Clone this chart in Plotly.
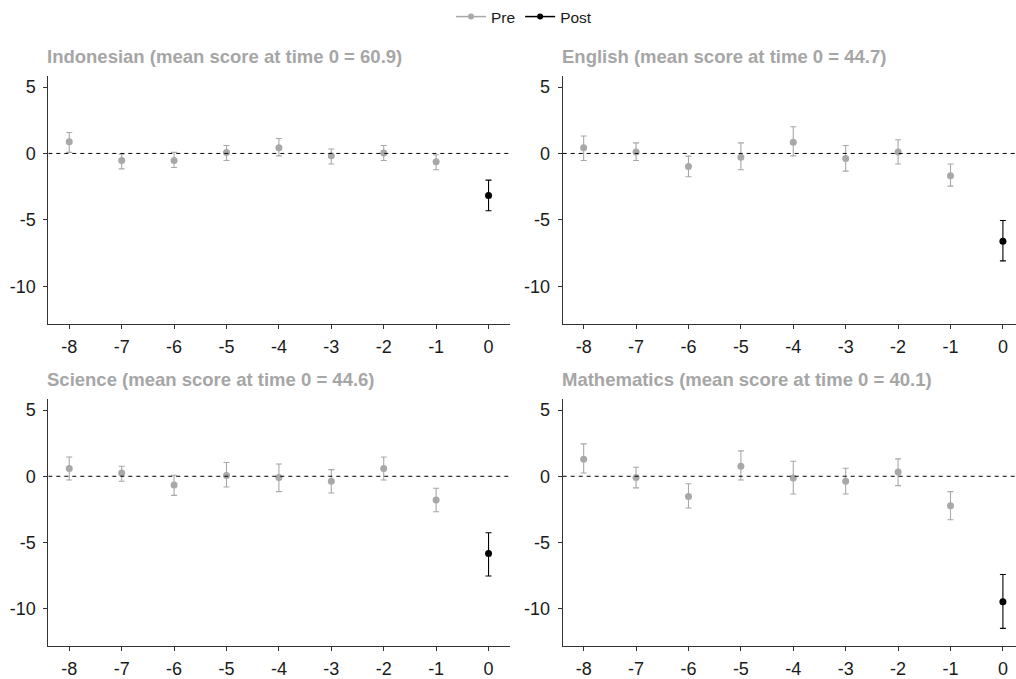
import plotly.graph_objects as go

# Event time relative to the policy change
time = [-8, -7, -6, -5, -4, -3, -2, -1, 0]

subjects = ["Indonesian", "English", "Science", "Mathematics"]
baseline_mean = [60.9, 44.7, 44.6, 40.1]

# Estimated coefficients and 95% confidence bounds per subject
indonesian_est = [0.88, -0.53, -0.53, 0.08, 0.43, -0.18, 0.03, -0.63, -3.17]
indonesian_lo = [0.08, -1.16, -1.06, -0.53, -0.18, -0.80, -0.53, -1.23, -4.32]
indonesian_hi = [1.58, -0.05, 0.08, 0.60, 1.13, 0.33, 0.60, -0.10, -2.01]

english_est = [0.43, 0.10, -0.98, -0.28, 0.85, -0.38, 0.10, -1.68, -6.61]
english_lo = [-0.53, -0.53, -1.76, -1.23, -0.18, -1.33, -0.80, -2.46, -8.09]
english_hi = [1.31, 0.80, -0.20, 0.80, 2.01, 0.60, 1.03, -0.80, -5.05]

science_est = [0.58, 0.25, -0.66, 0.05, -0.10, -0.38, 0.58, -1.79, -5.83]
science_lo = [-0.28, -0.38, -1.44, -0.81, -1.16, -1.26, -0.28, -2.68, -7.53]
science_hi = [1.46, 0.76, 0.08, 1.04, 0.93, 0.50, 1.46, -0.91, -4.27]

math_est = [1.29, -0.10, -1.52, 0.76, -0.13, -0.38, 0.33, -2.22, -9.47]
math_lo = [0.25, -0.88, -2.40, -0.28, -1.34, -1.34, -0.71, -3.28, -11.49]
math_hi = [2.45, 0.68, -0.56, 1.92, 1.14, 0.60, 1.31, -1.16, -7.42]

estimates = [indonesian_est, english_est, science_est, math_est]
lowers = [indonesian_lo, english_lo, science_lo, math_lo]
uppers = [indonesian_hi, english_hi, science_hi, math_hi]

y_ticks = [5, 0, -5, -10]
x_ticks = time

W, H = 1016, 679
PRE_COLOR = "#a8a8a8"
POST_COLOR = "#000000"
FONT = "Liberation Sans, Arial, sans-serif"

# Panel boxes in pixels: (left, right, top, bottom)
panels = [
    (48.3, 509.5, 76, 325),
    (562.7, 1016, 76, 325),
    (48.3, 509.5, 400, 648.3),
    (562.7, 1016, 400, 648.3),
]
x_ranges = [[-8.4, 0.4], [-8.4, 0.25], [-8.4, 0.4], [-8.4, 0.25]]
y_range = [-12.85, 5.85]
title_y = [57, 57, 381, 381]

fig = go.Figure()
layout_axes = {}

for i, subj in enumerate(subjects):
    n = i + 1
    xa = "x" if n == 1 else f"x{n}"
    ya = "y" if n == 1 else f"y{n}"
    est, lo, hi = estimates[i], lowers[i], uppers[i]

    for phase, color in (("Pre", PRE_COLOR), ("Post", POST_COLOR)):
        idx = [k for k, t in enumerate(time) if (t < 0) == (phase == "Pre")]
        xs = [time[k] for k in idx]
        ys = [est[k] for k in idx]
        plus = [hi[k] - est[k] for k in idx]
        minus = [est[k] - lo[k] for k in idx]
        fig.add_trace(go.Scatter(
            x=xs, y=ys, mode="markers", xaxis=xa, yaxis=ya,
            marker=dict(color=color, size=7),
            error_y=dict(type="data", symmetric=False, array=plus,
                         arrayminus=minus, color=color, thickness=1.1, width=3),
            showlegend=False, hoverinfo="skip",
        ))

    # zero reference line
    fig.add_trace(go.Scatter(
        x=x_ranges[i], y=[0, 0], mode="lines", xaxis=xa, yaxis=ya,
        line=dict(color="#000000", width=1, dash="4px,4px"),
        showlegend=False, hoverinfo="skip",
    ))

    l, r, t, b = panels[i]
    common = dict(showline=True, linecolor="#333333", linewidth=1,
                  ticks="outside", ticklen=4, tickcolor="#333333",
                  showgrid=False, zeroline=False,
                  tickfont=dict(family=FONT, size=18, color="#1a1a1a"))
    layout_axes["xaxis" if n == 1 else f"xaxis{n}"] = dict(
        domain=[l / W, r / W], range=x_ranges[i], anchor=ya,
        tickvals=x_ticks, ticktext=[str(v) for v in x_ticks],
        ticklabelstandoff=2, **common)
    layout_axes["yaxis" if n == 1 else f"yaxis{n}"] = dict(
        domain=[1 - b / H, 1 - t / H], range=y_range, anchor=xa,
        tickvals=y_ticks, ticktext=[str(v) for v in y_ticks],
        ticklabelstandoff=4, **common)

    fig.add_annotation(
        text=f"<b>{subj} (mean score at time 0 = {baseline_mean[i]})</b>",
        xref="paper", yref="paper", x=(l - 3) / W, y=1 - title_y[i] / H,
        xanchor="left", yanchor="middle", showarrow=False,
        font=dict(family=FONT, size=18.5, color="#a6a6a6"),
    )

# legend entries
for name, color in (("Pre", PRE_COLOR), ("Post", POST_COLOR)):
    fig.add_trace(go.Scatter(
        x=[None], y=[None], mode="lines+markers", name=name,
        line=dict(color=color, width=1.5), marker=dict(color=color, size=6),
    ))

fig.update_layout(
    width=W, height=H,
    margin=dict(l=0, r=0, t=0, b=0),
    paper_bgcolor="white", plot_bgcolor="white",
    font=dict(family=FONT, size=15, color="#1a1a1a"),
    legend=dict(orientation="h", x=0.5 + 16 / W, xanchor="center",
                y=1.0, yanchor="top",
                font=dict(family=FONT, size=15.5, color="#1a1a1a"),
                itemwidth=30, tracegroupgap=0),
    **layout_axes,
)

fig.write_html("out.html")
